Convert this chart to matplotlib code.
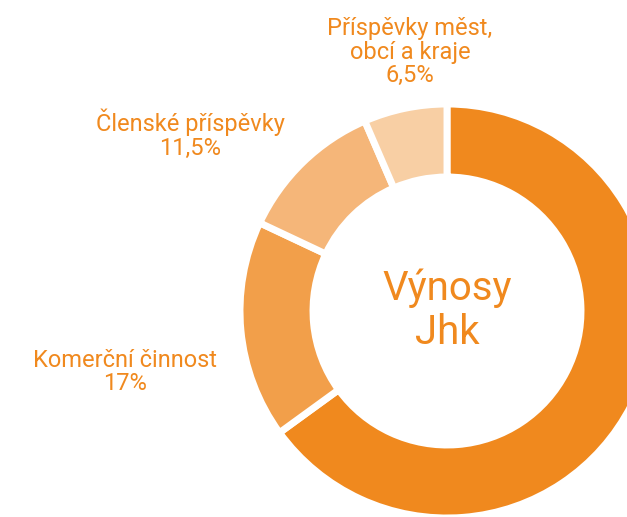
import matplotlib.pyplot as plt

labels = ["Výnosy z hlavní činnosti", "Komerční činnost", "Členské příspěvky", "Příspěvky měst, obcí a kraje"]
shares = [65, 17, 11.5, 6.5]
colors = ["#F0891E", "#F29F4A", "#F5B679", "#F8CFA4"]
label_texts = ["Komerční činnost\n17%", "Členské příspěvky\n11,5%", "Příspěvky měst,\nobcí a kraje\n6,5%"]

plt.rcParams['font.family'] = ['Roboto', 'DejaVu Sans']
text_color = "#F0891E"

fig = plt.figure(figsize=(6.27, 5.17), dpi=100)
ax = fig.add_axes([0, 0, 1, 1])

# pixel-like coordinates, y going up
cx, cy = 447, 517 - 311
ax.pie(shares, colors=colors, startangle=90, counterclock=False,
       center=(cx, cy), radius=207,
       wedgeprops=dict(width=73, edgecolor="white", linewidth=5))
ax.set_xlim(0, 627)
ax.set_ylim(0, 517)
ax.set_aspect("equal")
ax.axis("off")

ax.text(cx, cy + 1, "Výnosy\nJhk", ha="center", va="center",
        fontsize=29, color=text_color, linespacing=1.15)

# slice labels
positions = [(125, 517 - 372), (190, 517 - 134), (410, 517 - 52)]
for txt, (x, y) in zip(label_texts, positions):
    ax.text(x, y, txt, ha="center", va="center", fontsize=17,
            color=text_color, linespacing=1.05)

fig.savefig("out.png", dpi=100)
